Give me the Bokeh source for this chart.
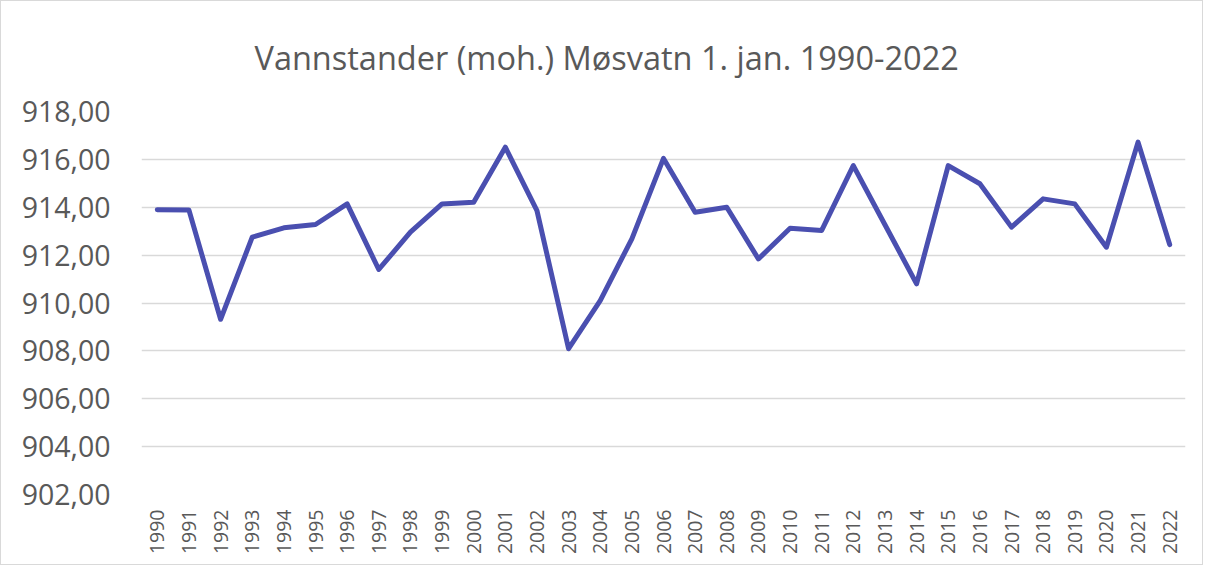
from bokeh.plotting import figure
from bokeh.models import ColumnDataSource, Range1d, FactorRange, FixedTicker, CustomJSTickFormatter, Title
from bokeh.embed import file_html
from bokeh.resources import INLINE
import math

years = [str(y) for y in range(1990, 2023)]
levels = [913.90, 913.88, 909.32, 912.75, 913.14, 913.28, 914.14, 911.40, 912.96, 914.14,
          914.21, 916.51, 913.86, 908.09, 910.10, 912.68, 916.04, 913.79, 914.00, 911.84,
          913.12, 913.03, 915.74, 913.27, 910.80, 915.74, 914.98, 913.17, 914.35, 914.14,
          912.33, 916.72, 912.44]
y_ticks = [902, 904, 906, 908, 910, 912, 914, 916, 918]
title_text = "Vannstander (moh.) Møsvatn 1. jan. 1990-2022"

FONT = "Open Sans"
GREY = "#595959"

src = ColumnDataSource(data=dict(year=years, level=levels))

p = figure(width=1203, height=565, x_range=FactorRange(*years), y_range=Range1d(902, 918),
           output_backend="svg", toolbar_location=None,
           min_border_left=140, min_border_right=19, min_border_top=110, min_border_bottom=72)

p.title = Title(text=title_text, align="left", vertical_align="top", text_font=FONT,
                text_font_size="32.5px", text_color=GREY, text_font_style="normal",
                offset=113, standoff=59)

p.line(x="year", y="level", source=src, line_color="#4a4fb0", line_width=5,
       line_join="round", line_cap="round")

p.yaxis.ticker = FixedTicker(ticks=y_ticks)
p.yaxis.formatter = CustomJSTickFormatter(code="return tick.toFixed(2).replace('.', ',');")
p.yaxis.major_label_text_font = FONT
p.yaxis.major_label_text_font_size = "28.5px"
p.yaxis.major_label_text_color = GREY
p.yaxis.major_label_standoff = 31
p.yaxis.axis_line_color = None
p.yaxis.major_tick_line_color = None
p.yaxis.minor_tick_line_color = None
p.yaxis.major_tick_out = 0

p.xaxis.major_label_orientation = math.pi / 2
p.xaxis.major_label_text_font = FONT
p.xaxis.major_label_text_font_size = "19.5px"
p.xaxis.major_label_text_color = GREY
p.xaxis.major_label_standoff = 15
p.xaxis.axis_line_color = None
p.xaxis.major_tick_line_color = None
p.xaxis.major_tick_out = 0

p.xgrid.grid_line_color = None
p.ygrid.grid_line_color = "#d9d9d9"
p.ygrid.grid_line_width = 1.5
p.outline_line_color = None
p.styles = {"border": "1px solid #d9d9d9"}

open("out.html", "w").write(file_html(p, INLINE))
